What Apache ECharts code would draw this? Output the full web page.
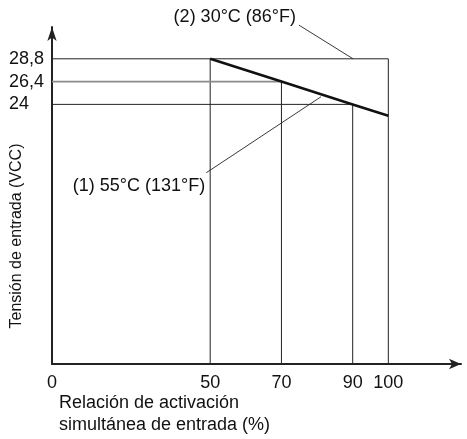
<!DOCTYPE html>
<html>
<head>
<meta charset="utf-8">
<script src="https://cdn.jsdelivr.net/npm/echarts@6/dist/echarts.min.js"></script>
<style>
html,body{margin:0;padding:0;background:#fff;}
#c{width:467px;height:439px;}
</style>
</head>
<body>
<div id="c"></div>
<script>
// ---- data ----
var ratioValues = [50, 70, 90, 100];            // % simultaneous activation
var voltage55 = [28.8, 26.4, 24, 22.8];           // (1) 55°C curve
var voltage30Level = 28.8;                        // (2) 30°C level
var xTickLabels = ['0', '50', '70', '90', '100'];
var yTickValues = [24, 26.4, 28.8];
var yTickLabels = ['24', '26,4', '28,8'];
var label30 = '(2) 30°C (86°F)';
var label55 = '(1) 55°C (131°F)';
var xTitle = 'Relación de activación\nsimultánea de entrada (%)';
var yTitle = 'Tensión de entrada (VCC)';

// schematic axis extents (origin is drawn as "0")
var X_MIN = 5.6, X_MAX = 120.4;
var Y_MIN = -3.34, Y_MAX = 32.15;

// annotation anchors (data coordinates)
var ann30Text = [74.1, 33.2];
var ann30Leader = [[74.9, 32.35], [90.1, 28.8]];
var ann55Text = [48.6, 15.4];
var ann55Leader = [[48.9, 16.8], [81.1, 24.8]];

var FONT = '"Liberation Sans", Arial, Helvetica, sans-serif';
var xTickValues = [X_MIN].concat(ratioValues);

// guide segments built from the data
var guideDark = [];
var guideGray = [];
guideDark.push([[X_MIN, voltage30Level], [ratioValues[3], voltage30Level], [ratioValues[3], Y_MIN]]);
guideDark.push([[ratioValues[0], voltage55[0]], [ratioValues[0], Y_MIN]]);
guideGray.push([[X_MIN, voltage55[1]], [ratioValues[1], voltage55[1]]]);
guideDark.push([[ratioValues[1], voltage55[1]], [ratioValues[1], Y_MIN]]);
guideDark.push([[X_MIN, voltage55[2]], [ratioValues[2], voltage55[2]], [ratioValues[2], Y_MIN]]);

var series = [];
guideDark.forEach(function (seg) {
  series.push({type: 'line', data: seg, symbol: 'none', silent: true,
    lineStyle: {color: '#222', width: 1}, z: 2});
});
guideGray.forEach(function (seg) {
  series.push({type: 'line', data: seg, symbol: 'none', silent: true,
    lineStyle: {color: '#8a8a8a', width: 1.6}, z: 2});
});
series.push({type: 'line', data: ratioValues.map(function (v, i) { return [v, voltage55[i]]; }),
  symbol: 'none', lineStyle: {color: '#111', width: 2.6}, z: 5});
[ann30Leader, ann55Leader].forEach(function (seg) {
  series.push({type: 'line', data: seg, symbol: 'none', clip: false, silent: true,
    lineStyle: {color: '#222', width: 0.9}, z: 4});
});

var chart = echarts.init(document.getElementById('c'), null, {renderer: 'canvas'});
chart.setOption({
  animation: false,
  backgroundColor: '#fff',
  grid: {left: 52, right: 6, top: 27, bottom: 75, containLabel: false},
  xAxis: {
    type: 'value', min: X_MIN, max: X_MAX,
    axisLine: {show: true, onZero: false, lineStyle: {color: '#222', width: 2},
      symbol: ['none', 'arrow'], symbolSize: [8, 12]},
    axisTick: {show: false},
    splitLine: {show: false},
    axisLabel: {
      customValues: xTickValues,
      formatter: function (v) { var i = xTickValues.indexOf(v); return i >= 0 ? xTickLabels[i] : ''; },
      color: '#111', fontSize: 18, fontFamily: FONT, margin: 10
    }
  },
  yAxis: {
    type: 'value', min: Y_MIN, max: Y_MAX,
    axisLine: {show: true, onZero: false, lineStyle: {color: '#222', width: 2},
      symbol: ['none', 'arrow'], symbolSize: [7, 14]},
    axisTick: {show: false},
    splitLine: {show: false},
    axisLabel: {
      customValues: yTickValues,
      formatter: function (v) { var i = yTickValues.indexOf(v); return i >= 0 ? yTickLabels[i] : ''; },
      color: '#111', fontSize: 18, fontFamily: FONT, align: 'left', margin: 43
    }
  },
  series: series
});

var p30 = chart.convertToPixel({gridIndex: 0}, ann30Text);
var p55 = chart.convertToPixel({gridIndex: 0}, ann55Text);
chart.setOption({
  graphic: [
    {type: 'text', left: 59, top: 392, style: {text: xTitle, fill: '#111',
      font: '18px ' + FONT, lineHeight: 22}},
    {type: 'text', x: 17, y: 236, rotation: Math.PI / 2, style: {text: yTitle, fill: '#111',
      font: '16px ' + FONT, align: 'center', verticalAlign: 'middle'}},
    {type: 'text', x: p30[0], y: p30[1], style: {text: label30, fill: '#111',
      font: '18px ' + FONT, align: 'right', verticalAlign: 'middle'}},
    {type: 'text', x: p55[0], y: p55[1], style: {text: label55, fill: '#111',
      font: '18px ' + FONT, align: 'right', verticalAlign: 'middle'}}
  ]
});
</script>
</body>
</html>
